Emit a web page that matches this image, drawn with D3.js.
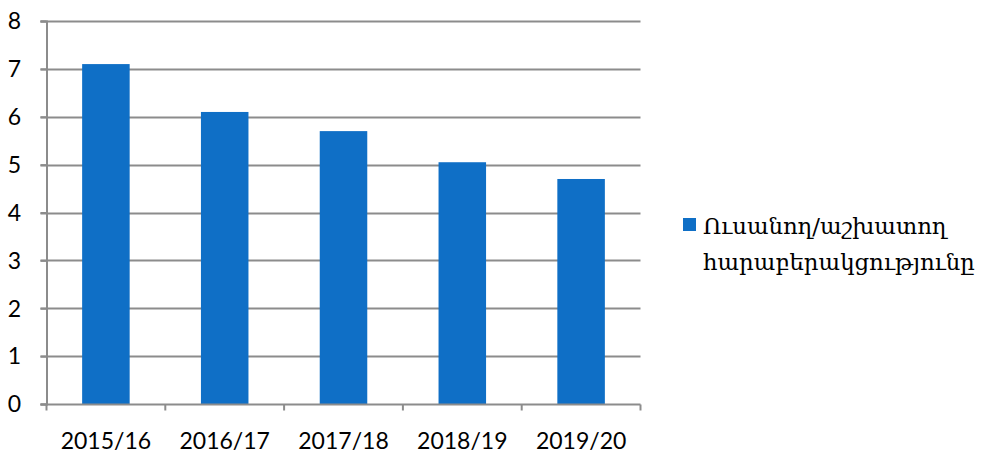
<!DOCTYPE html>
<html><head><meta charset="utf-8">
<script src="https://cdn.jsdelivr.net/npm/d3@7"></script>
<style>body{margin:0;background:#fff}svg{display:block}</style>
</head><body>
<script>
const categories = ["2015/16","2016/17","2017/18","2018/19","2019/20"];
const values = [7.1, 6.1, 5.7, 5.05, 4.7];
const yTicks = [0,1,2,3,4,5,6,7,8];
const seriesName = ["Ուսանող/աշխատող","հարաբերակցությունը"];

const W = 981, H = 459;
const svg = d3.select("body").append("svg").attr("width", W).attr("height", H);
const mLeft = 46.5, mRight = 640.5, mTop = 21, mBottom = 404;
const x = d3.scaleBand().domain(categories).range([mLeft, mRight]).paddingInner(0.6).paddingOuter(0.3);
const xb = d3.scaleBand().domain(categories).range([mLeft, mRight]);
const y = d3.scaleLinear().domain([0, 8]).range([mBottom, mTop]);
const gridColor = "#8c8c8c";
const fontAxis = "Lato, 'Open Sans', sans-serif";

// gridlines
svg.append("g").selectAll("line").data(yTicks.filter(d => d > 0)).join("line")
  .attr("x1", mLeft - 6).attr("x2", mRight)
  .attr("y1", d => Math.round(y(d)) + 0.5).attr("y2", d => Math.round(y(d)) + 0.5)
  .attr("stroke", gridColor).attr("stroke-width", 2);

// bars
svg.append("g").selectAll("rect").data(values).join("rect")
  .attr("x", (d, i) => x(categories[i]))
  .attr("width", x.bandwidth())
  .attr("y", d => y(d))
  .attr("height", d => y(0) - y(d))
  .attr("fill", "#0f6fc6");

// y axis
const yAxis = d3.axisLeft(y).tickValues(yTicks).tickSize(6).tickPadding(14).tickFormat(d3.format("d"));
const gy = svg.append("g").attr("transform", `translate(${mLeft},0)`).call(yAxis);
gy.select(".domain").attr("stroke", gridColor).attr("stroke-width", 2);
gy.selectAll(".tick line").attr("stroke", gridColor).attr("stroke-width", 2);
gy.selectAll(".tick text").attr("font-family", fontAxis).attr("font-size", 23).attr("fill", "#000").attr("text-anchor", "middle").attr("x", -32).attr("dy", "0.34em");

// x axis
const xAxis = d3.axisBottom(xb).tickSize(0).tickPadding(28);
const gx = svg.append("g").attr("transform", `translate(0,${Math.round(y(0)) + 0.5})`).call(xAxis);
gx.select(".domain").attr("stroke", gridColor).attr("stroke-width", 2).attr("d", `M${mLeft - 6},0H${mRight}`);
gx.selectAll(".tick text").attr("font-family", fontAxis).attr("font-size", 23).attr("fill", "#000");
// category boundary ticks
const bounds = categories.map(c => xb(c)).concat([mRight]);
gx.append("g").selectAll("line").data(bounds).join("line")
  .attr("x1", d => d).attr("x2", d => d).attr("y1", 0).attr("y2", 6)
  .attr("stroke", gridColor).attr("stroke-width", 2);

// legend
const lg = svg.append("g");
lg.append("rect").attr("x", 683).attr("y", 218).attr("width", 13).attr("height", 13).attr("fill", "#0f6fc6");
lg.append("text").attr("x", 703).attr("y", 234).attr("font-family", "'DejaVu Serif', serif").attr("font-size", 22.8).attr("fill", "#000")
  .selectAll("tspan").data(seriesName).join("tspan").attr("x", 703).attr("dy", (d, i) => i ? 36 : 0).text(d => d);
</script>
</body></html>
